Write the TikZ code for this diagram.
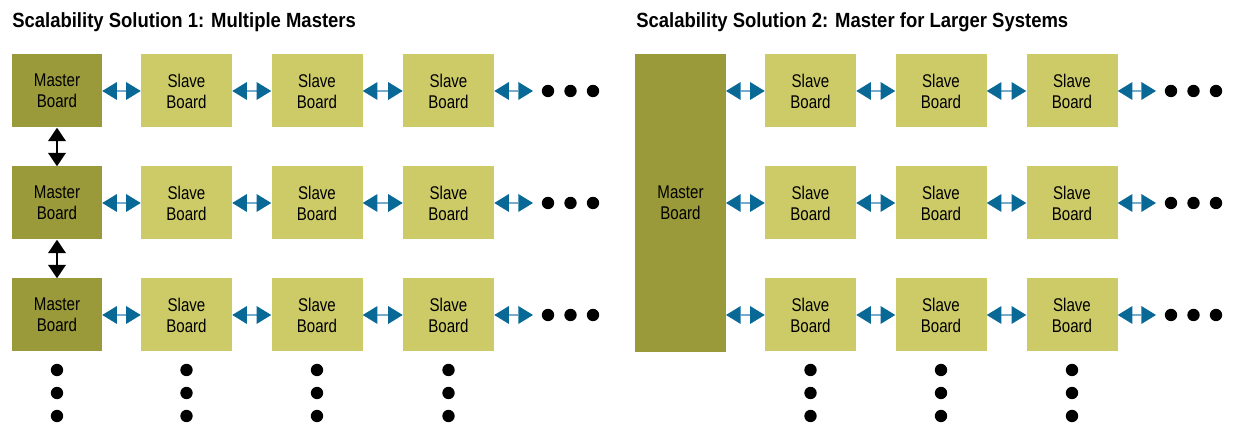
\documentclass[tikz,border=0pt]{standalone}
\usepackage{fontspec}
\setmainfont{Liberation Sans}[FakeStretch=0.82]
\newfontfamily\headfont{Liberation Sans}[FakeStretch=0.9]
\usetikzlibrary{arrows.meta, positioning}

\definecolor{masterolive}{RGB}{154,154,58}
\definecolor{slaveolive}{RGB}{205,203,104}
\definecolor{linkblue}{RGB}{8,104,150}
\definecolor{shaftblue}{RGB}{120,170,205}

\tikzset{
    board/.style={inner sep=0pt, align=center, font=\fontsize{13.8}{15.75}\selectfont},
    master/.style={board, fill=masterolive, minimum width=67.5pt, minimum height=54.75pt},
    slave/.style={board, fill=slaveolive, minimum width=68.25pt, minimum height=54.75pt},
    link/.style={shaftblue, line width=1.5pt,
        {Triangle[length=11pt, width=13.5pt, color=linkblue, line width=0pt]}-{Triangle[length=11pt, width=13.5pt, color=linkblue, line width=0pt]}},
    chain/.style={black, line width=1pt,
        {Triangle[length=10pt, width=13.5pt, line width=0pt]}-{Triangle[length=10pt, width=13.5pt, line width=0pt]}},
    bigdot/.style={circle, fill=black, inner sep=0pt, minimum size=9.3pt},
    heading/.style={anchor=base west, inner sep=0pt, font=\headfont\bfseries\fontsize{15.4}{18}\selectfont}
}

\begin{document}
\begin{tikzpicture}[x=0.75pt, y=-0.75pt]
    \useasboundingbox (0,0) rectangle (1233,423);

    % headings
    \node[heading] (title1) at (12,28) {Scalability Solution 1: Multiple Masters};
    \node[heading] (title2) at (636,28) {Scalability Solution 2: Master for Larger Systems};

    % Solution 1: one master per row
    \foreach \r/\y in {1/91, 2/203, 3/315} {
        \node[master] (ma\r) at (57,\y) {Master\\Board};
        \node[slave] (sa\r1) at (186.5,\y) {Slave\\Board};
        \node[slave] (sa\r2) at (317,\y) {Slave\\Board};
        \node[slave] (sa\r3) at (448.5,\y) {Slave\\Board};
        \coordinate (ea\r) at (533,\y);
        \draw[link] (ma\r) -- (sa\r1);
        \draw[link] (sa\r1) -- (sa\r2);
        \draw[link] (sa\r2) -- (sa\r3);
        \draw[link] (sa\r3) -- (ea\r);
        \foreach \k in {0,1,2}
            \node[bigdot] (da\r\k) at (548+22.5*\k,\y) {};
    }
    \draw[chain] (ma1) -- (ma2);
    \draw[chain] (ma2) -- (ma3);
    \foreach \c/\x in {0/57, 1/186.5, 2/317, 3/448.5}
        \foreach \k in {0,1,2}
            \node[bigdot] (va\c\k) at (\x,370+23*\k) {};

    % Solution 2: one tall master for all rows
    \node[board, fill=masterolive, minimum width=68.25pt, minimum height=223.5pt] (mb) at (680.5,203) {Master\\Board};
    \foreach \r/\y in {1/91, 2/203, 3/315} {
        \coordinate (mb\r) at (726,\y);
        \node[slave] (sb\r1) at (810.5,\y) {Slave\\Board};
        \node[slave] (sb\r2) at (941,\y) {Slave\\Board};
        \node[slave] (sb\r3) at (1072,\y) {Slave\\Board};
        \coordinate (eb\r) at (1156,\y);
        \draw[link] (mb\r) -- (sb\r1);
        \draw[link] (sb\r1) -- (sb\r2);
        \draw[link] (sb\r2) -- (sb\r3);
        \draw[link] (sb\r3) -- (eb\r);
        \foreach \k in {0,1,2}
            \node[bigdot] (db\r\k) at (1171+22.5*\k,\y) {};
    }
    \foreach \c/\x in {1/810.5, 2/941, 3/1072}
        \foreach \k in {0,1,2}
            \node[bigdot] (vb\c\k) at (\x,370+23*\k) {};
\end{tikzpicture}
\end{document}
